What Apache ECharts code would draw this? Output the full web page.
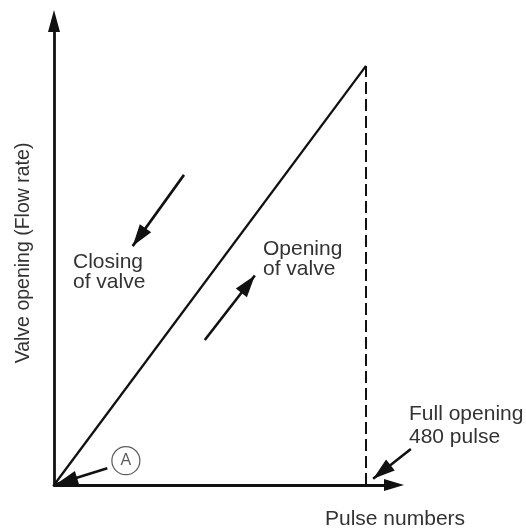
<!DOCTYPE html>
<html>
<head>
<meta charset="utf-8">
<script src="https://cdn.jsdelivr.net/npm/echarts@6/dist/echarts.min.js"></script>
<style>
  html, body { margin: 0; padding: 0; background: #fff; }
  #chart { width: 526px; height: 531px; }
</style>
</head>
<body>
<div id="chart"></div>
<script>
// valve opening vs pulse count (0 -> full opening at 480 pulses)
const pulses = [0, 480];
const opening = [0, 100];
const fullPulse = 480;

// annotation arrows, [from, to] in the same data units
const closingArrow = [[200, 74], [121, 57]];
const openingArrow = [[232, 34.6], [309, 50]];
const fullArrow = [[549, 8.6], [491, 1.5]];
const markerArrow = [[82, 4], [3, 0.2]];
const markerA = [[110.6, 5.8]];

const font = '"Liberation Sans", Arial, sans-serif';
const ink = '#111';
const textColor = '#333';

const arrowLine = (pair) => [
    { coord: pair[0] },
    { coord: pair[1] }
];

const hiddenAxis = {
    type: 'value',
    min: 0,
    axisLine: { show: false },
    axisTick: { show: false },
    axisLabel: { show: false },
    splitLine: { show: false }
};

const chart = echarts.init(document.getElementById('chart'));
chart.setOption({
    animation: false,
    grid: [
        { left: 54, top: 24, width: 338, height: 461 },
        // same scale, wider, just so the annotations are not filtered
        { left: 54, top: 24, width: 390, height: 461 }
    ],
    xAxis: [
        {
            type: 'value',
            min: 0,
            max: 520,
            axisLine: {
                show: true,
                symbol: ['none', 'triangle'],
                symbolSize: [12, 20],
                symbolOffset: [0, 2],
                lineStyle: { color: ink, width: 2.8 }
            },
            axisTick: { show: false },
            axisLabel: { show: false },
            splitLine: { show: false }
        },
        Object.assign({ gridIndex: 1, max: 600 }, hiddenAxis)
    ],
    yAxis: [
        {
            type: 'value',
            min: 0,
            max: 110,
            axisLine: {
                show: true,
                symbol: ['none', 'triangle'],
                symbolSize: [12, 22],
                symbolOffset: [0, 3],
                lineStyle: { color: ink, width: 2.8 }
            },
            axisTick: { show: false },
            axisLabel: { show: false },
            splitLine: { show: false }
        },
        Object.assign({ gridIndex: 1, max: 110 }, hiddenAxis)
    ],
    series: [
        {
            type: 'line',
            data: pulses.map((p, i) => [p, opening[i]]),
            showSymbol: false,
            symbol: 'none',
            lineStyle: { color: ink, width: 2.3 },
            z: 3
        },
        {
            type: 'line',
            data: [[fullPulse, 0], [fullPulse, opening[1]]],
            showSymbol: false,
            symbol: 'none',
            lineStyle: { color: ink, width: 2, type: [12, 5] },
            z: 2
        },
        {
            type: 'scatter',
            xAxisIndex: 1,
            yAxisIndex: 1,
            data: markerA,
            symbol: 'circle',
            symbolSize: 28,
            itemStyle: { color: '#fff', borderColor: textColor, borderWidth: 1.2 },
            label: {
                show: true,
                position: 'inside',
                formatter: 'A',
                fontFamily: font,
                fontSize: 16,
                color: textColor
            },
            z: 5,
            markLine: {
                silent: true,
                symbol: ['none', 'triangle'],
                symbolSize: [14, 22],
                symbolOffset: [[0, 0], [0, 11]],
                label: { show: false },
                lineStyle: { color: ink, width: 2.6, type: 'solid' },
                data: [closingArrow, openingArrow, fullArrow, markerArrow].map(arrowLine)
            }
        }
    ],
    graphic: [
        {
            type: 'text', x: 24, y: 253, rotation: Math.PI / 2,
            style: {
                text: 'Valve opening (Flow rate)', font: '19.5px ' + font,
                fill: textColor, align: 'center', verticalAlign: 'middle'
            }
        },
        {
            type: 'text', x: 325, y: 509,
            style: { text: 'Pulse numbers', font: '21px ' + font, fill: textColor, lineHeight: 21 }
        },
        {
            type: 'text', x: 73, y: 252.5,
            style: { text: 'Closing\nof valve', font: '21px ' + font, fill: textColor, lineHeight: 20 }
        },
        {
            type: 'text', x: 263, y: 239.5,
            style: { text: 'Opening\nof valve', font: '21px ' + font, fill: textColor, lineHeight: 20 }
        },
        {
            type: 'text', x: 409, y: 403,
            style: { text: 'Full opening\n480 pulse', font: '21px ' + font, fill: textColor, lineHeight: 23 }
        }
    ]
});
</script>
</body>
</html>
